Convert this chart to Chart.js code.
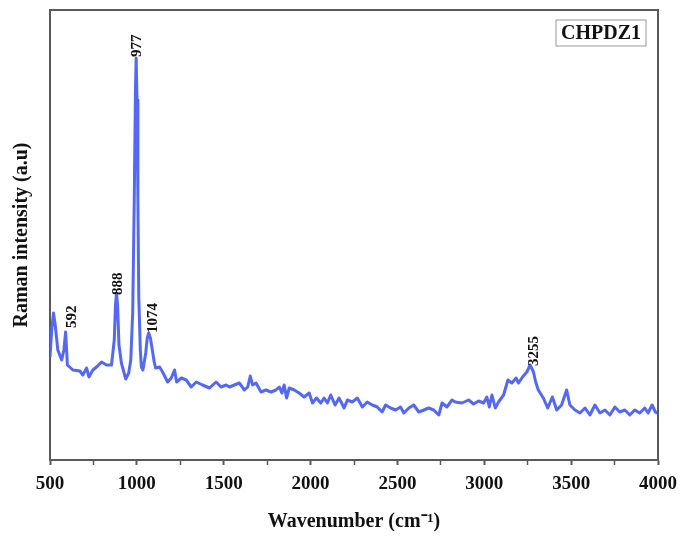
<!DOCTYPE html>
<html>
<head>
<meta charset="utf-8">
<script src="https://cdn.jsdelivr.net/npm/chart.js@4.4.0/dist/chart.umd.min.js"></script>
<style>
  html, body { margin: 0; padding: 0; background: #fff; }
  #wrap { width: 685px; height: 541px; }
</style>
</head>
<body>
<div id="wrap"><canvas id="chart"></canvas></div>
<script>
//Datos del espectro Raman
const wavenumber = [
  500, 510, 520, 530, 545, 567, 580, 590, 600, 632, 672, 689, 711, 724, 747, 768, 797, 825, 854,
  870, 877, 883, 889, 897, 911, 936, 953, 965, 976, 985, 992, 996, 1001, 1006, 1011, 1020, 1026,
  1035, 1051, 1060, 1068, 1078, 1089, 1100, 1108, 1131, 1148, 1177, 1198, 1217, 1229, 1256, 1284,
  1313, 1342, 1378, 1418, 1456, 1485, 1514, 1533, 1561, 1590, 1619, 1638, 1653, 1666, 1686, 1715,
  1743, 1772, 1801, 1820, 1835, 1848, 1862, 1877, 1906, 1934, 1963, 1992, 2011, 2034, 2059, 2078,
  2097, 2116, 2141, 2164, 2193, 2212, 2240, 2269, 2298, 2326, 2355, 2384, 2412, 2432, 2461, 2489,
  2518, 2537, 2566, 2594, 2623, 2652, 2680, 2709, 2738, 2757, 2785, 2814, 2833, 2871, 2910, 2938,
  2967, 2996, 3015, 3029, 3044, 3063, 3082, 3111, 3136, 3159, 3183, 3197, 3220, 3245, 3264, 3283,
  3296, 3311, 3340, 3365, 3392, 3417, 3445, 3474, 3493, 3522, 3551, 3580, 3608, 3637, 3666, 3695,
  3723, 3752, 3780, 3809, 3838, 3866, 3895, 3924, 3943, 3966, 3985, 4000
];
const intensity = [
  103, 130, 147, 135, 110, 100, 110, 128, 95, 90, 89, 85, 92, 83, 90, 93, 98, 95, 95,
  120, 155, 167, 155, 115, 97, 81, 87, 100, 147, 260, 370, 402, 360, 260, 163, 110, 93,
  90, 107, 122, 127, 122, 110, 98, 92, 93, 88, 78, 82, 90, 78, 82, 80,
  73, 78, 75, 72, 78, 73, 75, 73, 75, 77, 70, 73, 84, 75, 77, 68,
  70, 68, 70, 73, 67, 75, 62, 72, 70, 67, 63, 67, 57, 62, 57, 62,
  57, 65, 55, 62, 52, 60, 58, 62, 53, 58, 55, 53, 48, 55, 52, 50,
  53, 47, 52, 55, 48, 50, 52, 50, 45, 57, 53, 60, 58, 57, 60, 56,
  59, 57, 63, 53, 65, 52, 58, 65, 80, 77, 82, 77, 83, 88, 95, 88,
  78, 70, 62, 52, 63, 50, 55, 70, 55, 50, 47, 52, 45, 55, 47, 50,
  45, 53, 48, 50, 45, 50, 47, 52, 47, 55, 48, 47
];

//Etiquetas de los picos
const peakLabels = ['592', '888', '977', '1074', '3255'];
const peakLabelX = [626, 893, 1002, 1091, 3289];
const peakLabelY = [132, 165, 403, 127, 94];

//Ticks del eje x
const xTicks = [500, 1000, 1500, 2000, 2500, 3000, 3500, 4000];

const serif = "'Liberation Serif', 'Times New Roman', serif";
const axisColor = '#5a5a5a';

//Marco completo, etiquetas de picos y caja con el nombre
const extras = {
  id: 'extras',
  afterDatasetsDraw(chart) {
    const {ctx, chartArea: a, scales: {x, y}} = chart;
    ctx.save();
    ctx.strokeStyle = axisColor;
    ctx.lineWidth = 2;
    ctx.beginPath();
    ctx.moveTo(a.left, a.top);
    ctx.lineTo(a.right, a.top);
    ctx.lineTo(a.right, a.bottom);
    ctx.stroke();

    //etiquetas giradas
    ctx.fillStyle = '#111';
    ctx.font = 'bold 15px ' + serif;
    ctx.textAlign = 'left';
    ctx.textBaseline = 'middle';
    peakLabels.forEach((t, i) => {
      ctx.save();
      ctx.translate(x.getPixelForValue(peakLabelX[i]), y.getPixelForValue(peakLabelY[i]));
      ctx.rotate(-Math.PI / 2);
      ctx.fillText(t, 0, 0);
      ctx.restore();
    });

    //caja de la muestra
    const name = chart.data.datasets[0].label;
    ctx.font = 'bold 20px ' + serif;
    const w = ctx.measureText(name).width;
    const bx = a.right - 12 - w - 10, by = a.top + 10;
    ctx.strokeStyle = '#999';
    ctx.lineWidth = 1;
    ctx.strokeRect(bx, by, w + 10, 26);
    ctx.textAlign = 'center';
    ctx.fillText(name, bx + (w + 10) / 2, by + 14);
    ctx.restore();
  }
};

let ctx = document.getElementById('chart');
let chart = new Chart(ctx, {
  type: 'line',
  data: {
    datasets: [{
      label: 'CHPDZ1',
      data: wavenumber.map((w, i) => ({x: w, y: intensity[i]})),
      borderColor: '#5468f2',
      borderWidth: 3,
      borderJoinStyle: 'round',
      pointRadius: 0,
      tension: 0,
      fill: false
    }]
  },
  options: {
    responsive: true,
    maintainAspectRatio: false,
    animation: false,
    layout: {padding: {top: 10, right: 25, left: 0, bottom: 0}},
    plugins: {legend: {display: false}, tooltip: {enabled: false}},
    scales: {
      x: {
        type: 'linear',
        min: 500,
        max: 4000,
        afterFit: (s) => { s.height = 81; },
        afterBuildTicks: (s) => {
          //ticks mayores y menores cada 250
          const t = [];
          for (let v = 500; v <= 4000; v += 250) t.push({value: v});
          s.ticks = t;
        },
        ticks: {
          autoSkip: false,
          maxRotation: 0,
          padding: 8,
          color: '#111',
          font: {family: serif, size: 19, weight: 'bold'},
          callback: (v) => xTicks.includes(v) ? String(v) : ''
        },
        grid: {
          drawOnChartArea: false,
          drawTicks: true,
          tickLength: 5,
          tickColor: axisColor,
          tickWidth: (c) => (c.tick && xTicks.includes(c.tick.value)) ? 2 : 1.5
        },
        border: {display: true, color: axisColor, width: 2},
        title: {
          display: true,
          text: 'Wavenumber (cm\u207B\u00B9)',
          color: '#111',
          font: {family: serif, size: 20, weight: 'bold'},
          padding: {top: 0, bottom: 7}
        }
      },
      y: {
        min: 0,
        max: 450,
        afterFit: (s) => { s.width = 50; },
        ticks: {display: false},
        grid: {display: false, drawTicks: false},
        border: {display: true, color: axisColor, width: 2},
        title: {
          display: true,
          text: 'Raman intensity (a.u)',
          color: '#111',
          font: {family: serif, size: 20, weight: 'bold'},
          padding: {top: 10, bottom: 0}
        }
      }
    }
  },
  plugins: [extras]
});
</script>
</body>
</html>
